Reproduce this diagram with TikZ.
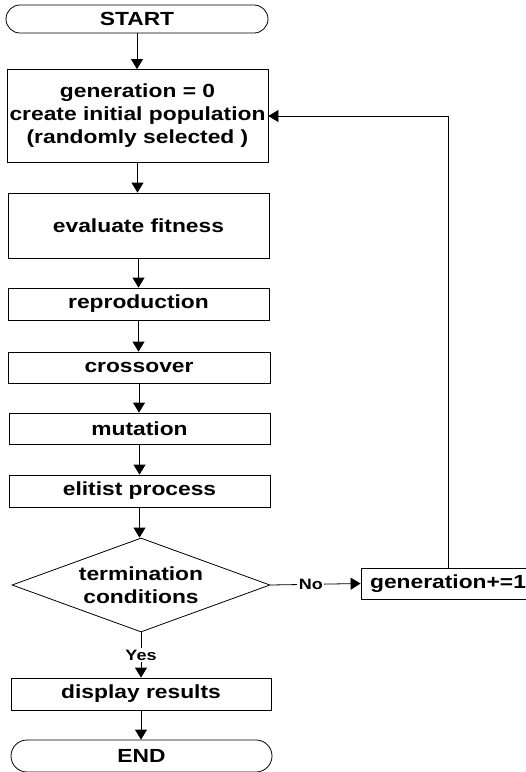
\documentclass[tikz,border=0pt]{standalone}
\usepackage{fontspec}
\setmainfont{Liberation Sans}[FakeStretch=1.2]
\usetikzlibrary{shapes.geometric,shapes.misc,arrows.meta}
\begin{document}
\begin{tikzpicture}[x=1pt,y=-1pt,
  font=\bfseries\fontsize{19pt}{23pt}\selectfont,
  box/.style={draw, rectangle, line width=0.8pt, inner sep=0pt, align=center},
  term/.style={draw, rounded rectangle, line width=0.8pt, inner sep=0pt, align=center},
  decision/.style={draw, diamond, aspect=2.75, line width=0.8pt, inner sep=0pt, align=center},
  arr/.style={-{Triangle[length=10pt,width=12pt]}, line width=0.8pt},
  lbl/.style={fill=white, inner sep=1.5pt, font=\bfseries\fontsize{15pt}{17pt}\selectfont}]
\useasboundingbox (0,0) rectangle (526,772);
\node[term, minimum width=262pt, minimum height=28pt] (start) at (137,19) {START};
\node[box, minimum width=261pt, minimum height=93pt] (b1) at (137.5,116) {generation = 0\\create initial population\\(randomly selected )};
\node[box, minimum width=261pt, minimum height=65pt] (b2) at (138.5,225.5) {evaluate fitness};
\node[box, minimum width=261pt, minimum height=32pt] (rep) at (138.5,304) {reproduction};
\node[box, minimum width=262pt, minimum height=31pt] (cro) at (139,367.5) {crossover};
\node[box, minimum width=261pt, minimum height=31pt] (mut) at (139.5,428.5) {mutation};
\node[box, minimum width=261pt, minimum height=32pt] (eli) at (139.5,491) {elitist process};
\node[decision, minimum width=258pt, minimum height=94pt] (dec) at (141,585) {termination\\conditions};
\node[box, minimum width=174pt, minimum height=31pt] (gen) at (448,583.5) {generation+=1};
\node[box, minimum width=260pt, minimum height=32pt] (dis) at (141,694) {display results};
\node[term, minimum width=261pt, minimum height=32pt] (fin) at (141.5,756) {END};
\draw[arr] (start.south) -- (start.south |- b1.north);
\draw[arr] (b1.south) -- (b1.south |- b2.north);
\draw[arr] (b2.south) -- (b2.south |- rep.north);
\draw[arr] (rep.south) -- (rep.south |- cro.north);
\draw[arr] (cro.south) -- (cro.south |- mut.north);
\draw[arr] (mut.south) -- (mut.south |- eli.north);
\draw[arr] (eli.south) -- (eli.south |- dec.north);
\draw[arr] (dec.east) -- node[lbl, pos=0.45] {No} (gen.west);
\draw[arr] (dec.south) -- node[lbl, pos=0.5] {Yes} (dec.south |- dis.north);
\draw[arr] (dis.south) -- (dis.south |- fin.north);
\draw[arr] (gen.north) |- (b1.east);
\end{tikzpicture}
\end{document}
